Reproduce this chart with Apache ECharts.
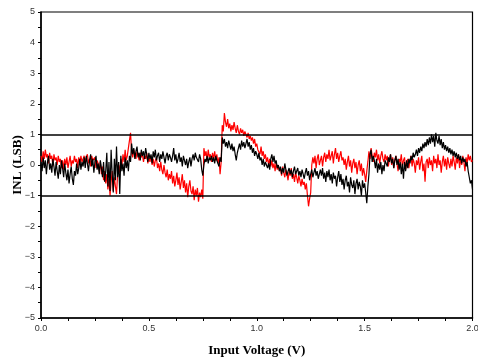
<!DOCTYPE html>
<html>
<head>
<meta charset="utf-8">
<script src="https://cdn.jsdelivr.net/npm/echarts@6/dist/echarts.min.js"></script>
<style>html,body{margin:0;padding:0;background:#fff}#c{width:478px;height:358px}</style>
</head>
<body>
<div id="c"></div>
<script>
var xStep = 0.005;
var xTicks = [0.0, 0.5, 1.0, 1.5, 2.0];
var yTicks = [-5, -4, -3, -2, -1, 0, 1, 2, 3, 4, 5];
var limits = [1, -1];
var blackInl = [
0.05,-0.2,0.25,-0.1,0.15,-0.3,0.1,0.3,-0.15,0.05,-0.25,0.2,-0.05,-0.35,0.1,-0.2,-0.45,0.0,-0.3,0.15,
-0.1,-0.4,0.05,-0.25,-0.5,-0.15,-0.6,-0.3,-0.05,-0.45,-0.65,-0.2,-0.35,0.05,-0.3,-0.1,0.2,-0.15,0.1,-0.05,
0.25,-0.1,0.3,0.05,-0.2,0.15,0.35,-0.05,0.2,-0.25,0.1,0.3,-0.15,0.05,-0.3,0.15,-0.1,-0.4,0.1,-0.55,
-0.2,0.4,-0.7,0.1,-0.85,0.5,-0.3,-0.9,0.2,-0.5,0.6,-0.4,0.1,-0.95,0.3,-0.2,0.05,-0.35,0.25,-0.1,
0.15,-0.2,0.3,0.1,0.7,0.35,0.55,0.2,0.45,0.6,0.25,0.4,0.15,0.5,0.3,0.45,0.2,0.55,0.35,0.1,
0.4,0.2,0.35,0.05,0.45,0.25,0.5,0.15,0.3,0.4,0.1,0.35,0.2,0.45,0.25,0.05,0.3,0.4,0.15,0.35,
0.25,0.1,0.3,0.55,0.15,0.35,0.05,0.2,0.4,0.1,0.25,-0.05,0.3,0.15,0.0,0.2,-0.1,0.1,0.25,-0.05,
0.2,0.35,0.15,0.4,0.25,0.3,0.1,0.35,0.2,-0.15,-0.35,0.0,0.2,0.1,0.3,0.05,0.25,0.15,0.3,0.1,
0.25,0.05,0.3,0.15,0.2,-0.05,0.25,0.1,0.9,0.7,0.85,0.6,0.75,0.55,0.8,0.65,0.5,0.7,0.45,0.6,
0.35,0.15,0.4,0.55,0.7,0.5,0.8,0.6,0.75,0.55,0.7,0.85,0.6,0.75,0.5,0.65,0.4,0.55,0.3,0.45,
0.35,0.2,0.4,0.15,0.25,0.0,0.2,-0.05,0.1,0.15,-0.1,0.05,-0.15,0.2,0.35,0.1,0.3,0.05,0.15,-0.1,
0.0,-0.2,-0.05,-0.3,-0.1,-0.25,0.05,-0.15,-0.35,-0.2,-0.1,-0.3,-0.15,-0.4,-0.2,-0.05,-0.3,-0.25,-0.1,-0.35,
-0.2,-0.4,-0.15,-0.3,-0.45,-0.25,-0.1,-0.35,-0.2,-0.5,-0.3,-0.15,-0.4,-0.25,-0.1,-0.35,-0.2,-0.45,-0.3,-0.15,
-0.35,-0.1,-0.45,-0.25,-0.55,-0.2,-0.4,-0.15,-0.5,-0.3,-0.6,-0.25,-0.45,-0.35,-0.7,-0.4,-0.2,-0.55,-0.3,-0.65,
-0.45,-0.8,-0.5,-0.35,-0.7,-0.55,-0.9,-0.4,-0.65,-0.75,-0.5,-0.95,-0.6,-0.45,-0.8,-0.55,-0.7,-1.0,-0.5,-0.75,
-0.6,-0.9,-1.25,-0.7,-0.3,0.35,0.5,0.1,0.3,0.15,-0.1,0.2,-0.25,0.05,-0.15,0.1,-0.3,0.0,-0.2,0.15,
0.2,-0.05,0.25,0.1,0.35,0.05,0.2,-0.1,0.15,0.3,0.0,0.2,-0.15,0.1,-0.3,0.05,-0.45,0.1,-0.2,0.15,
-0.1,0.2,0.05,0.3,0.15,0.4,0.25,0.35,0.5,0.3,0.55,0.4,0.6,0.45,0.7,0.55,0.75,0.6,0.85,0.65,
0.9,0.7,1.0,0.75,0.95,0.6,1.05,0.8,0.7,0.95,0.65,0.85,0.55,0.75,0.5,0.65,0.45,0.6,0.4,0.55,
0.35,0.5,0.3,0.45,0.25,0.4,0.2,0.35,0.15,0.3,0.05,0.25,0.1,0.2,-0.05,0.1,-0.2,-0.4,-0.6,-0.5,
-0.8
];
var redInl = [
0.3,0.1,0.45,0.2,0.5,0.25,0.35,0.05,0.4,0.2,0.3,-0.05,0.35,0.15,0.25,0.0,0.3,0.1,0.2,-0.1,
0.15,-0.15,0.2,0.0,0.25,-0.1,0.1,0.3,-0.05,0.15,0.05,0.3,0.1,0.2,-0.1,0.25,0.05,0.3,0.1,0.2,
0.3,0.1,0.25,0.35,0.05,0.2,-0.05,0.3,0.15,0.1,0.25,-0.1,0.15,0.05,-0.2,0.1,-0.3,-0.05,-0.5,-0.2,
-0.6,-0.3,-0.8,-0.45,-1.0,-0.55,-0.2,-0.85,-0.4,-0.7,-0.95,-0.3,0.0,-0.25,0.2,0.0,0.35,0.1,0.5,0.15,
0.3,0.55,0.6,1.05,0.4,0.25,0.5,0.35,0.2,0.45,0.3,0.15,0.4,0.25,0.35,0.1,0.3,0.2,0.4,0.05,
0.25,0.1,0.3,0.0,0.2,-0.05,0.15,0.25,-0.1,0.05,-0.2,0.1,-0.15,-0.3,0.0,-0.25,-0.4,-0.15,-0.5,-0.3,
-0.45,-0.2,-0.6,-0.35,-0.7,-0.5,-0.25,-0.65,-0.4,-0.8,-0.55,-0.3,-0.75,-0.5,-0.9,-0.6,-1.05,-0.7,-0.5,-0.85,
-0.95,-0.7,-1.15,-0.8,-1.0,-0.75,-1.2,-0.9,-1.05,-0.8,-1.1,0.55,0.3,0.45,0.15,0.5,0.25,0.35,0.1,0.4,
0.2,0.45,0.15,0.35,0.05,0.25,-0.3,0.1,1.3,1.1,1.7,1.4,1.25,1.5,1.2,1.35,1.1,1.3,1.15,1.4,
1.2,1.05,1.3,1.1,1.0,1.2,1.05,1.15,0.95,1.1,1.0,0.9,1.05,0.85,0.95,0.8,0.9,0.7,0.85,0.6,
0.7,0.5,0.55,0.35,0.6,0.3,0.45,0.2,0.35,0.1,0.25,0.0,0.2,-0.05,0.15,-0.1,0.05,-0.2,0.1,-0.15,
0.0,-0.2,-0.1,-0.35,-0.05,-0.25,-0.4,-0.15,-0.3,-0.5,-0.2,-0.35,-0.1,-0.45,-0.3,-0.55,-0.25,-0.4,-0.6,-0.35,
-0.5,-0.7,-0.45,-0.65,-0.55,-0.8,-0.6,-1.0,-1.35,-1.1,-0.9,0.0,0.25,0.05,0.3,-0.1,0.2,0.35,0.0,0.15,
0.3,-0.05,0.25,0.4,0.1,0.35,0.2,0.5,0.15,0.3,0.45,0.05,0.35,0.55,0.2,0.4,0.1,0.3,0.45,0.15,
0.25,0.0,0.2,-0.15,0.1,0.3,-0.05,0.15,-0.25,0.05,0.2,-0.1,0.1,-0.3,0.0,0.15,-0.2,0.05,-0.35,-0.1,
-0.3,-0.55,-0.2,0.1,0.45,0.2,0.55,0.3,0.1,0.4,0.25,0.5,0.15,0.35,0.05,0.3,0.45,0.2,0.1,0.35,
0.15,0.3,-0.05,0.2,0.35,0.0,0.25,-0.1,0.15,0.3,0.05,-0.2,0.2,0.1,0.35,-0.05,0.15,0.25,-0.15,0.1,
0.2,-0.1,0.15,0.3,-0.05,0.2,0.05,-0.25,0.15,0.0,0.25,-0.15,0.1,0.3,-0.2,0.05,-0.55,0.1,0.2,-0.1,
0.25,0.0,0.15,-0.2,0.3,0.05,0.2,-0.1,0.35,0.0,0.15,-0.25,0.1,0.3,-0.05,0.2,-0.15,0.25,0.05,-0.1,
0.2,-0.05,0.3,0.1,-0.15,0.25,0.05,0.35,-0.1,0.2,0.0,0.3,0.1,-0.2,0.25,0.05,0.35,0.15,0.3,0.1,
0.15
];
function pairs(arr){ return arr.map(function(v,i){ return [+(i*xStep).toFixed(3), v]; }); }
var chart = echarts.init(document.getElementById('c'), null, {renderer:'canvas'});
var labelFont = {fontFamily:'Liberation Sans, Arial, sans-serif', fontSize:9, color:'#333'};
chart.setOption({
  animation:false,
  backgroundColor:'#fff',
  grid:{left:41, right:5.5, top:12, bottom:40, containLabel:false, outerBoundsMode:'none',
        show:true, borderColor:'#000', borderWidth:1.2, backgroundColor:'transparent'},
  xAxis:{
    type:'value', min:xTicks[0], max:xTicks[xTicks.length-1], interval:0.5,
    name:'Input Voltage (V)', nameLocation:'middle', nameGap:26, nameMoveOverlap:false,
    nameTextStyle:{fontFamily:'Liberation Serif, Times New Roman, serif', fontWeight:'bold', fontSize:13, color:'#000'},
    axisLine:{show:true, onZero:false, lineStyle:{color:'#000', width:1.5}},
    axisTick:{show:true, inside:false, length:3, lineStyle:{color:'#000', width:1}},
    minorTick:{show:true, splitNumber:4, length:3, lineStyle:{color:'#000', width:1}},
    splitLine:{show:false},
    axisLabel:Object.assign({margin:6, formatter:function(v){return v.toFixed(1);}}, labelFont)
  },
  yAxis:{
    type:'value', min:yTicks[0], max:yTicks[yTicks.length-1], interval:1,
    name:'INL (LSB)', nameLocation:'middle', nameGap:17, nameMoveOverlap:false,
    nameTextStyle:{fontFamily:'Liberation Serif, Times New Roman, serif', fontWeight:'bold', fontSize:13, color:'#000'},
    axisLine:{show:true, onZero:false, lineStyle:{color:'#000', width:1.5}},
    axisTick:{show:true, inside:false, length:3, lineStyle:{color:'#000', width:1}},
    minorTick:{show:true, splitNumber:2, length:3, lineStyle:{color:'#000', width:1}},
    splitLine:{show:false},
    axisLabel:Object.assign({margin:6, formatter:function(v){return String(v).replace('-', '\u2212');}}, labelFont)
  },
  series:[
    {type:'line', name:'red', data:pairs(redInl), showSymbol:false, symbol:'none',
     lineStyle:{color:'#ff0000', width:1.2}, z:2,
     markLine:{silent:true, symbol:'none', label:{show:false},
       lineStyle:{color:'#000', width:1.5, type:'solid'},
       data:limits.map(function(v){return {yAxis:v};})}},
    {type:'line', name:'black', data:pairs(blackInl), showSymbol:false, symbol:'none',
     lineStyle:{color:'#000000', width:1.2}, z:3}
  ]
});
</script>
</body>
</html>
